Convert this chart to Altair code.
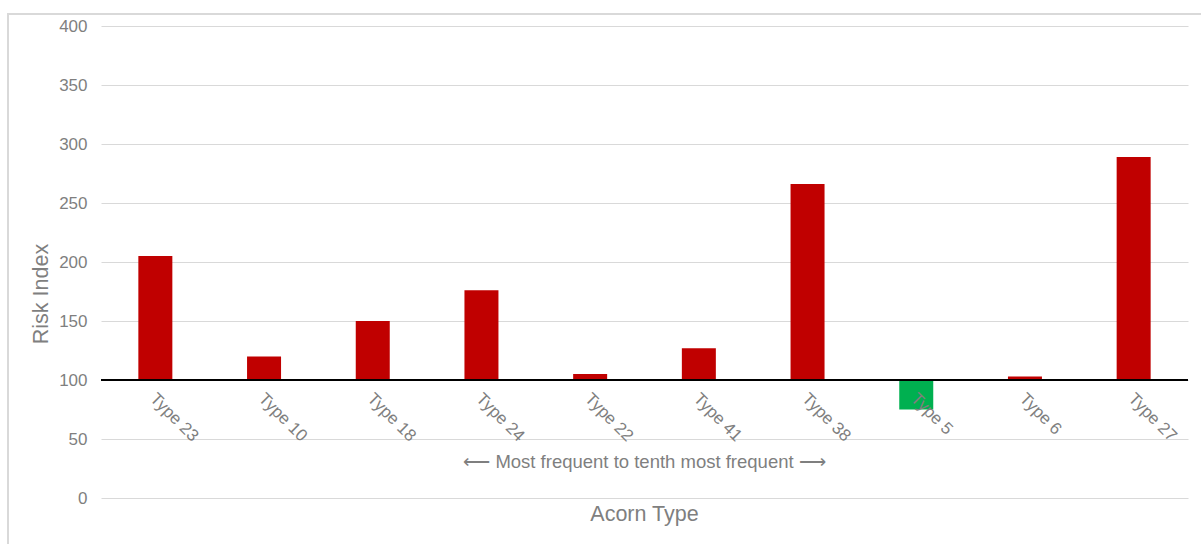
import altair as alt
import pandas as pd

types = ["Type 23", "Type 10", "Type 18", "Type 24", "Type 22",
         "Type 41", "Type 38", "Type 5", "Type 6", "Type 27"]
risk = [205, 120, 150, 176, 105, 127, 266, 75, 103, 289]
baseline = 100
y_ticks = [0, 50, 100, 150, 200, 250, 300, 350, 400]
x_note = "\u27f5 Most frequent to tenth most frequent \u27f6"
x_title = "Acorn Type"
y_title = "Risk Index"

df = pd.DataFrame({"type": types, "risk": risk})
df["base"] = baseline
df["dir"] = ["up" if v >= baseline else "down" for v in risk]

W, H = 1087, 472
FONT = "Liberation Sans"
GRAY = "#7f7f7f"

x_enc = alt.X("type:N", sort=types, title=None,
              axis=alt.Axis(offset=-118, labelAngle=45, labelAlign="left",
                            labelBaseline="top", labelPadding=10, labelOffset=3,
                            ticks=False, domain=False, grid=False, zindex=1,
                            labelFontSize=17, labelColor=GRAY, labelFont=FONT))
y_scale = alt.Scale(domain=[0, 400], nice=False)

bars = alt.Chart(df).mark_bar(size=34).encode(
    x=x_enc,
    y=alt.Y("risk:Q", scale=y_scale, title=None,
            axis=alt.Axis(values=y_ticks, ticks=False, domain=False,
                          labelPadding=14, labelFontSize=17, labelColor=GRAY,
                          labelFont=FONT, gridColor="#d9d9d9", gridWidth=1)),
    y2="base:Q",
    color=alt.Color("dir:N", scale=alt.Scale(domain=["up", "down"],
                                             range=["#C00000", "#00B050"]),
                    legend=None),
)

base_rule = alt.Chart(pd.DataFrame({"b": [baseline]})).mark_rule(
    color="black", strokeWidth=2).encode(
    y=alt.Y("b:Q", scale=y_scale), x=alt.value(0), x2=alt.value(W))

texts = pd.DataFrame({"t": [x_note]})
note = alt.Chart(texts).mark_text(font=FONT, fontSize=18.5, color=GRAY).encode(
    text="t:N", x=alt.value(W / 2), y=alt.value(436))

t2 = pd.DataFrame({"t": [x_title]})
xt = alt.Chart(t2).mark_text(font=FONT, fontSize=21.5, color=GRAY).encode(
    text="t:N", x=alt.value(W / 2), y=alt.value(489))

t3 = pd.DataFrame({"t": [y_title]})
yt = alt.Chart(t3).mark_text(font=FONT, fontSize=21.5, color=GRAY, angle=270).encode(
    text="t:N", x=alt.value(-59), y=alt.value(268))

border = alt.Chart(pd.DataFrame({"k": [0]})).mark_rect(
    fill=None, stroke="#d9d9d9", strokeWidth=2).encode(
    x=alt.value(-93), x2=alt.value(1115), y=alt.value(-12), y2=alt.value(540))

chart = alt.layer(border, bars, base_rule, note, xt, yt).properties(
    width=W, height=H,
    autosize=alt.AutoSizeParams(type="none"),
    padding={"left": 101, "top": 26, "right": 13, "bottom": 46},
    background="white",
).configure_view(stroke=None)

chart.save("out.html", embed_options={"renderer": "svg", "actions": False})
